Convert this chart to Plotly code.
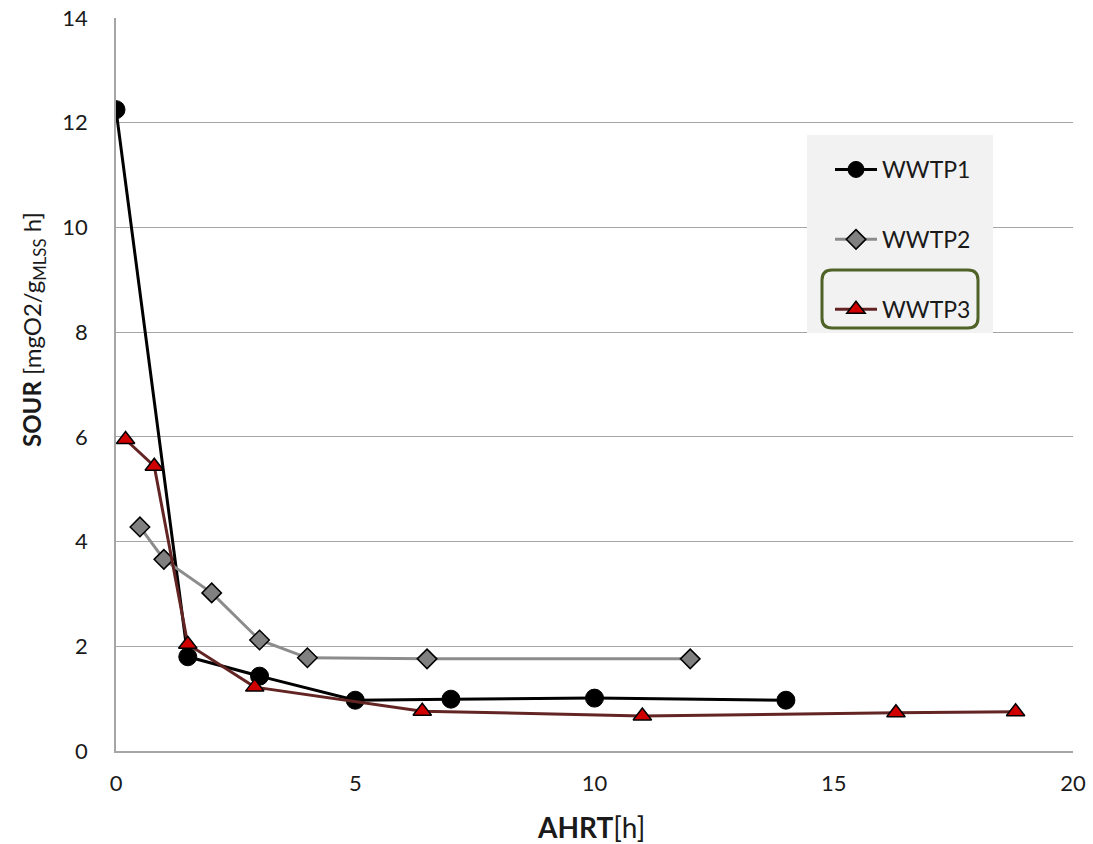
import plotly.graph_objects as go

# ---- data ----
w1_x = [0, 1.5, 3, 5, 7, 10, 14]
w1_y = [12.25, 1.8, 1.43, 0.97, 0.99, 1.01, 0.97]

w2_x = [0.5, 1.0, 2, 3, 4, 6.5, 12]
w2_y = [4.28, 3.66, 3.02, 2.12, 1.78, 1.76, 1.76]

w3_x = [0.2, 0.8, 1.5, 2.9, 6.4, 11, 16.3, 18.8]
w3_y = [5.95, 5.44, 2.04, 1.22, 0.76, 0.67, 0.73, 0.75]

x_ticks = [0, 5, 10, 15, 20]
y_ticks = [0, 2, 4, 6, 8, 10, 12, 14]

FONT = "Lato"

fig = go.Figure()
fig.add_trace(go.Scatter(
    x=w1_x, y=w1_y, name="WWTP1", mode="lines+markers", legendgroup="a",
    line=dict(color="black", width=3),
    marker=dict(symbol="circle", size=18, color="black", line=dict(color="black", width=1))))
fig.add_trace(go.Scatter(
    x=w2_x, y=w2_y, name="WWTP2", mode="lines+markers", legendgroup="b",
    line=dict(color="#8c8c8c", width=3),
    marker=dict(symbol="diamond", size=15, color="#808080", line=dict(color="black", width=1.5))))
fig.add_trace(go.Scatter(
    x=w3_x, y=w3_y, name="WWTP3", mode="lines+markers", legendgroup="c",
    line=dict(color="#632523", width=3),
    marker=dict(symbol="triangle-up", size=16, color="#d00000", line=dict(color="black", width=1.5))))

L, R, T, B = 116, 1073, 18, 751
W, H = R - L, B - T


def px(xp):
    return (xp - L) / W


def py(yp):
    return (B - yp) / H


# legend background
fig.add_shape(type="rect", xref="paper", yref="paper",
              x0=px(807), x1=px(993), y0=py(333), y1=py(135),
              fillcolor="#f2f2f2", line=dict(width=0), layer="above")

# rounded green frame around WWTP3
x0, x1, y0, y1, r = px(822), px(978), py(328), py(270), 10
rx, ry = r / W, r / H
path = (f"M {x0+rx},{y1} L {x1-rx},{y1} Q {x1},{y1} {x1},{y1-ry} "
        f"L {x1},{y0+ry} Q {x1},{y0} {x1-rx},{y0} L {x0+rx},{y0} "
        f"Q {x0},{y0} {x0},{y0+ry} L {x0},{y1-ry} Q {x0},{y1} {x0+rx},{y1} Z")
fig.add_shape(type="path", xref="paper", yref="paper", path=path,
              line=dict(color="#4f6228", width=3), layer="above")

# axis titles
fig.add_annotation(text="<b>SOUR</b> [mgO2/g<sub>MLSS</sub> h]", textangle=-90,
                   xref="paper", yref="paper", x=px(33), y=py(330),
                   xanchor="center", yanchor="middle", showarrow=False,
                   font=dict(family=FONT, size=24, color="#1a1a1a"))
fig.add_annotation(text="<b>AHRT</b>[h]",
                   xref="paper", yref="paper", x=px(591), y=py(827),
                   xanchor="center", yanchor="middle", showarrow=False,
                   font=dict(family=FONT, size=28, color="#1a1a1a"))

fig.update_layout(
    width=1093, height=844,
    margin=dict(l=L, r=1093 - R, t=T, b=844 - B),
    plot_bgcolor="white", paper_bgcolor="white",
    font=dict(family=FONT, size=22, color="#1a1a1a"),
    showlegend=True,
    legend=dict(x=px(830), y=py(148), xanchor="left", yanchor="top",
                bgcolor="rgba(0,0,0,0)", font=dict(family=FONT, size=23, color="#1a1a1a"),
                tracegroupgap=37, itemwidth=42),
    xaxis=dict(range=[0, 20], tickvals=x_ticks, showgrid=False, zeroline=False,
               showline=True, linecolor="#a6a6a6", linewidth=1.5, automargin=False,
               ticks="", tickfont=dict(size=22), ticklabelstandoff=12),
    yaxis=dict(range=[0, 14], tickvals=y_ticks, showgrid=True, gridcolor="#a6a6a6", gridwidth=1.2,
               zeroline=False, showline=True, linecolor="#a6a6a6", linewidth=1.5, automargin=False,
               ticks="", tickfont=dict(size=22), ticklabelstandoff=22),
)

fig.write_html("out.html")
